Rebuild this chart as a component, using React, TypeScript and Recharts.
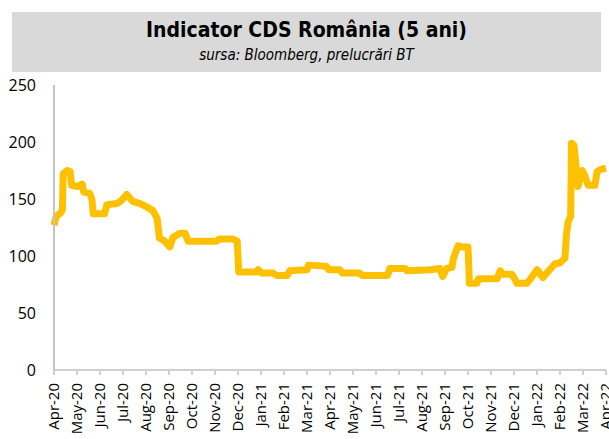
import React from 'react';
import { LineChart, Line, XAxis, YAxis } from 'recharts';

// month tick labels, Apr-20 .. Apr-22
const monthLabels = [
  'Apr-20', 'May-20', 'Jun-20', 'Jul-20', 'Aug-20', 'Sep-20', 'Oct-20', 'Nov-20', 'Dec-20',
  'Jan-21', 'Feb-21', 'Mar-21', 'Apr-21', 'May-21', 'Jun-21', 'Jul-21', 'Aug-21', 'Sep-21',
  'Oct-21', 'Nov-21', 'Dec-21', 'Jan-22', 'Feb-22', 'Mar-22', 'Apr-22',
];

const yTicks = [0, 50, 100, 150, 200, 250];

const dates = [
  '2020-04-01', '2020-04-03', '2020-04-06', '2020-04-10', '2020-04-12', '2020-04-13',
  '2020-04-18', '2020-04-22', '2020-04-24', '2020-05-02', '2020-05-08', '2020-05-10',
  '2020-05-18', '2020-05-21', '2020-05-23', '2020-06-07', '2020-06-10', '2020-06-23',
  '2020-06-28', '2020-07-06', '2020-07-14', '2020-07-24', '2020-08-02', '2020-08-10',
  '2020-08-16', '2020-08-19', '2020-08-26', '2020-09-02', '2020-09-06', '2020-09-15',
  '2020-09-22', '2020-09-26', '2020-11-03', '2020-11-07', '2020-11-24', '2020-11-30',
  '2020-12-02', '2020-12-25', '2020-12-28', '2021-01-02', '2021-01-17', '2021-01-22',
  '2021-02-05', '2021-02-08', '2021-03-01', '2021-03-03', '2021-03-27', '2021-03-30',
  '2021-04-14', '2021-04-17', '2021-05-10', '2021-05-13', '2021-06-16', '2021-06-19',
  '2021-07-09', '2021-07-12', '2021-08-12', '2021-08-25', '2021-08-29', '2021-09-03',
  '2021-09-10', '2021-09-12', '2021-09-18', '2021-09-23', '2021-10-01', '2021-10-03',
  '2021-10-13', '2021-10-15', '2021-11-09', '2021-11-13', '2021-11-16', '2021-11-28',
  '2021-12-02', '2021-12-05', '2021-12-18', '2021-12-22', '2022-01-01', '2022-01-09',
  '2022-01-14', '2022-01-25', '2022-02-01', '2022-02-07', '2022-02-09', '2022-02-11',
  '2022-02-14', '2022-02-15', '2022-02-18', '2022-02-23', '2022-02-28', '2022-03-03',
  '2022-03-08', '2022-03-17', '2022-03-20', '2022-03-25', '2022-04-01',
];

const cds = [
  127, 133, 136, 138, 141, 172,
  175, 174, 162, 161, 163, 156,
  155, 150, 137, 137, 145, 146,
  148, 154, 148, 146, 143, 140,
  133, 116, 113, 108, 116, 120,
  120, 113, 113, 115, 115, 113,
  86, 86, 88, 85, 85, 83,
  83, 87, 88, 92, 91, 88,
  88, 85, 85, 83, 83, 89,
  89, 87, 88, 89, 82, 89,
  90, 98, 109, 108, 108, 76,
  76, 80, 80, 87, 84, 84,
  80, 76, 76, 79, 88, 81,
  85, 93, 94, 98, 120, 130,
  135, 199, 197, 161, 175, 171,
  162, 162, 174, 176, 177,
];

// fractional months since 1 Apr 2020
const toMonth = (d: string) => {
  const [y, m, day] = d.split('-').map(Number);
  const dim = new Date(y, m, 0).getDate();
  return (y - 2020) * 12 + (m - 4) + (day - 1) / dim;
};

const data = dates.map((d, i) => ({ t: toMonth(d), v: cds[i] }));

const axisFont = "'Open Sans', 'DejaVu Sans', sans-serif";

const MonthTick = (props: any) => {
  const { x, y, payload } = props;
  return (
    <text
      x={x}
      y={y}
      transform={`rotate(-90, ${x}, ${y})`}
      dx={-6}
      dy="0.36em"
      textAnchor="end"
      fill="#000"
      fontSize={15}
      fontFamily={axisFont}
    >
      {monthLabels[payload.value]}
    </text>
  );
};

export default function App() {
  return (
    <div style={{ position: 'absolute', left: 0, top: 0, width: 609, height: 439, background: '#fff' }}>
      <div
        style={{
          position: 'absolute',
          left: 12,
          top: 12,
          width: 589,
          height: 60,
          background: '#d9d9d9',
          textAlign: 'center',
          fontFamily: "'DejaVu Sans', sans-serif",
          fontStretch: 'condensed',
        }}
      >
        <div style={{ fontSize: 21, fontWeight: 'bold', marginTop: 4, lineHeight: '28px' }}>
          Indicator CDS România (5 ani)
        </div>
        <div style={{ fontSize: 15, fontStyle: 'italic', lineHeight: '22px' }}>
          sursa: Bloomberg, prelucrări BT
        </div>
      </div>
      <LineChart
        width={609}
        height={439}
        data={data}
        margin={{ top: 85, right: 3, left: 0, bottom: 0 }}
        style={{ position: 'absolute', left: 0, top: 0 }}
      >
        <XAxis
          dataKey="t"
          type="number"
          domain={[0, 24]}
          ticks={monthLabels.map((_, i) => i)}
          interval={0}
          height={69}
          stroke="#d0d0d0"
          axisLine={{ stroke: '#d0d0d0', strokeWidth: 2 }}
          tickLine={{ stroke: '#d0d0d0', strokeWidth: 2 }}
          tickSize={5}
          tick={<MonthTick />}
        />
        <XAxis
          xAxisId="top"
          orientation="top"
          dataKey="t"
          type="number"
          domain={[0, 24]}
          height={0}
          tick={false}
          tickLine={false}
          axisLine={{ stroke: '#d9d9d9', strokeWidth: 2 }}
        />
        <YAxis
          domain={[0, 250]}
          ticks={yTicks}
          width={54}
          axisLine={{ stroke: '#c4c4c4', strokeWidth: 2 }}
          tickLine={false}
          tick={{ fill: '#000', fontSize: 16, fontFamily: axisFont }}
          tickMargin={12}
        />
        <YAxis
          yAxisId="right"
          orientation="right"
          domain={[0, 250]}
          width={0}
          tick={false}
          tickLine={false}
          axisLine={{ stroke: '#c4c4c4', strokeWidth: 2 }}
        />
        <Line
          dataKey="v"
          type="linear"
          stroke="#FFC000"
          strokeWidth={7}
          strokeLinejoin="round"
          dot={false}
          activeDot={false}
          isAnimationActive={false}
        />
      </LineChart>
    </div>
  );
}
